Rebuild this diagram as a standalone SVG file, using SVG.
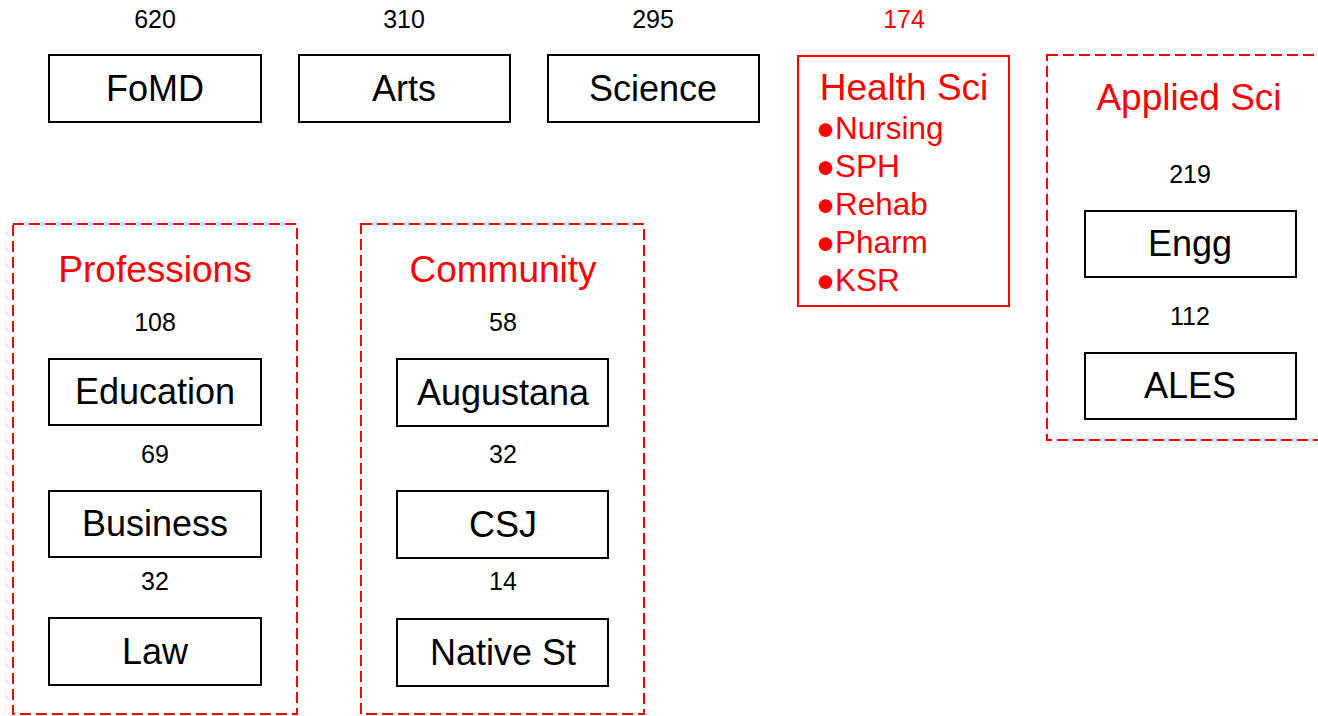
<svg xmlns="http://www.w3.org/2000/svg" width="1318" height="716" viewBox="0 0 1318 716">
<style>
.box{fill:#fff;stroke:#000;stroke-width:2}
.grp{fill:none;stroke:#f00;stroke-width:2;stroke-dasharray:11,5}
.hs{fill:#fff;stroke:#f00;stroke-width:2}
.lbl{font-family:"Liberation Sans",Arial,sans-serif;font-size:36px;fill:#000;text-anchor:middle}
.num{font-family:"Liberation Sans",Arial,sans-serif;font-size:25px;fill:#000;text-anchor:middle}
.ttl{font-family:"Liberation Sans",Arial,sans-serif;font-size:37px;fill:#f00;text-anchor:middle}
.li{font-family:"Liberation Sans",Arial,sans-serif;font-size:31.5px;fill:#f00}
.red{fill:#f00}
</style>
<rect width="1318" height="716" fill="#fff"/>
<g id="professions">
<rect class="grp" x="13" y="224" width="284" height="490"/>
<text class="ttl" x="155" y="282">Professions</text>
</g>
<g id="community">
<rect class="grp" x="361" y="224" width="283" height="490"/>
<text class="ttl" x="503" y="282">Community</text>
</g>
<g id="applied-sci">
<rect class="grp" x="1047" y="55" width="290" height="385"/>
<text class="ttl" x="1189" y="110">Applied Sci</text>
</g>
<g id="fomd"><text class="num" x="155" y="28">620</text><rect class="box" x="49" y="55" width="212" height="67"/><text class="lbl" x="155" y="101">FoMD</text></g>
<g id="arts"><text class="num" x="404" y="28">310</text><rect class="box" x="299" y="55" width="211" height="67"/><text class="lbl" x="404" y="101">Arts</text></g>
<g id="science"><text class="num" x="653" y="28">295</text><rect class="box" x="548" y="55" width="211" height="67"/><text class="lbl" x="653" y="101">Science</text></g>
<g id="health-sci">
<text class="num red" x="904" y="28">174</text>
<rect class="hs" x="798" y="56" width="211" height="250"/>
<text class="ttl" x="904" y="100">Health Sci</text>
<text class="li" x="816" y="139">●Nursing</text>
<text class="li" x="816" y="177">●SPH</text>
<text class="li" x="816" y="215">●Rehab</text>
<text class="li" x="816" y="253">●Pharm</text>
<text class="li" x="816" y="291">●KSR</text>
</g>
<g id="engg"><text class="num" x="1190" y="183">219</text><rect class="box" x="1085" y="211" width="211" height="66"/><text class="lbl" x="1190" y="256">Engg</text></g>
<g id="ales"><text class="num" x="1190" y="325">112</text><rect class="box" x="1085" y="353" width="211" height="66"/><text class="lbl" x="1190" y="398">ALES</text></g>
<g id="education"><text class="num" x="155" y="331">108</text><rect class="box" x="49" y="359" width="212" height="66"/><text class="lbl" x="155" y="404">Education</text></g>
<g id="business"><text class="num" x="155" y="463">69</text><rect class="box" x="49" y="491" width="212" height="66"/><text class="lbl" x="155" y="536">Business</text></g>
<g id="law"><text class="num" x="155" y="590">32</text><rect class="box" x="49" y="618" width="212" height="67"/><text class="lbl" x="155" y="664">Law</text></g>
<g id="augustana"><text class="num" x="503" y="331">58</text><rect class="box" x="397" y="359" width="211" height="67"/><text class="lbl" x="503" y="405">Augustana</text></g>
<g id="csj"><text class="num" x="503" y="463">32</text><rect class="box" x="397" y="491" width="211" height="67"/><text class="lbl" x="503" y="537">CSJ</text></g>
<g id="native-st"><text class="num" x="503" y="590">14</text><rect class="box" x="397" y="619" width="211" height="67"/><text class="lbl" x="503" y="665">Native St</text></g>
<g id="connectors"></g>
</svg>
